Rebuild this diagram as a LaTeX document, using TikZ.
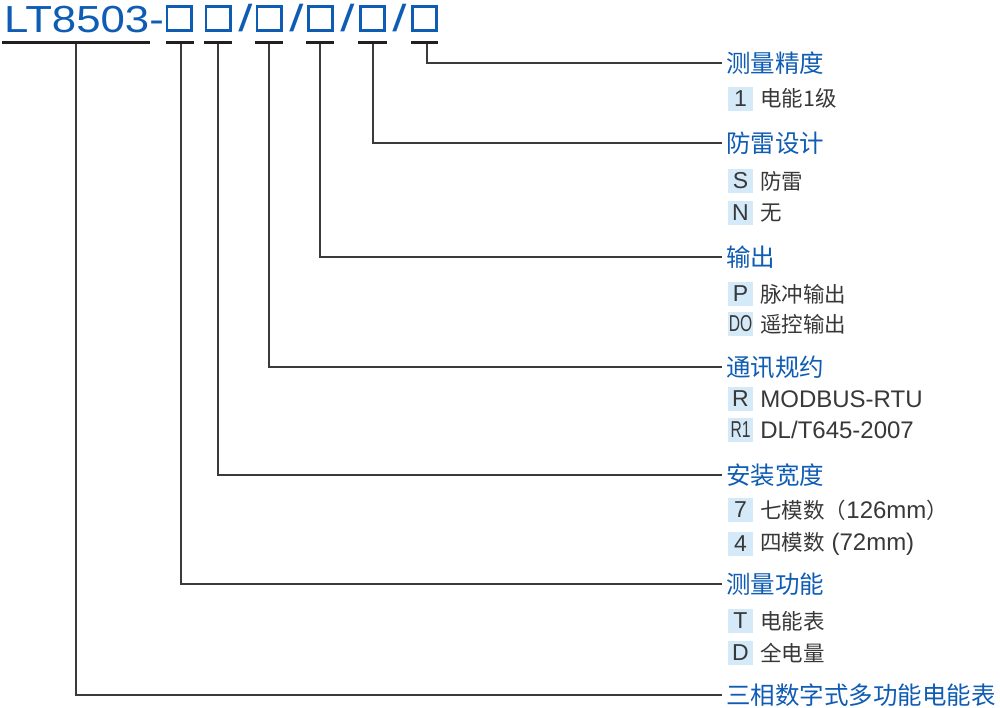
\documentclass[tikz,border=0pt]{standalone}
\usepackage{fontspec}
\setmainfont{Liberation Sans}
\newfontfamily\cjk{Noto Sans CJK SC}
\usetikzlibrary{positioning}
\definecolor{brand}{HTML}{0F5CB4}
\definecolor{ink}  {HTML}{383838}
\definecolor{wire} {HTML}{3A3A3A}
\definecolor{bar}  {HTML}{231F20}
\definecolor{tag}  {HTML}{D5EAF8}
\newcommand\zh[1]{{\cjk\fontsize{21.5}{23}\selectfont #1}}
\newcommand\narrow[1]{\scalebox{0.68}[1]{#1}}
\tikzset{
  codebox/.style={draw=brand, line width=2.6pt, minimum width=24.4pt,
    minimum height=24.4pt, inner sep=0pt},
  slash/.style={text=brand, inner sep=0pt,
    font=\fontsize{37.7}{40}\selectfont},
  head/.style={anchor=west, text=brand, inner xsep=4pt, inner ysep=0pt,
    font=\cjk\fontsize{24.5}{26}\selectfont},
  tagbox/.style={fill=tag, text=ink, minimum width=25pt, minimum height=24pt,
    inner sep=0pt, font=\fontsize{23}{24}\selectfont},
  item/.style={right=7pt of #1, text=ink, inner sep=0pt,
    font=\fontsize{24}{25}\selectfont},
  wire/.style={draw=wire, line width=1.3pt},
  underbar/.style={draw=bar, line width=3pt}
}
\begin{document}
\begin{tikzpicture}[x=1pt, y=-1pt]
    \useasboundingbox (0,0) rectangle (1000,707);

    % model code
    \node[anchor=base west, inner sep=0pt, text=brand,
      font=\fontsize{37.7}{40}\selectfont] (model) at (4,32)
      {\scalebox{1.16}[1]{LT8503-}};
    \node[codebox] (b1) at (179,  18.5) {};
    \node[codebox] (b2) at (218,  18.5) {};
    \node[slash]   (s1) at (245.5,18.5) {\scalebox{1.35}[1]{/}};
    \node[codebox] (b3) at (269,  18.5) {};
    \node[slash]   (s2) at (296.5,18.5) {\scalebox{1.35}[1]{/}};
    \node[codebox] (b4) at (320.5,18.5) {};
    \node[slash]   (s3) at (347.5,18.5) {\scalebox{1.35}[1]{/}};
    \node[codebox] (b5) at (372.5,18.5) {};
    \node[slash]   (s4) at (399.5,18.5) {\scalebox{1.35}[1]{/}};
    \node[codebox] (b6) at (424.5,18.5) {};

    % bars under the code
    \foreach \xa/\xb in {2/150, 166/194, 204/232, 255/283, 306/334, 358/387, 411/438}
      \draw[underbar] (\xa,42) -- (\xb,42);

    \coordinate (c0) at (76, 43.5);
    \coordinate (c1) at (181,43.5);
    \coordinate (c2) at (218,43.5);
    \coordinate (c3) at (269,43.5);
    \coordinate (c4) at (320,43.5);
    \coordinate (c5) at (373,43.5);
    \coordinate (c6) at (427,43.5);

    % headings
    \node[head] (h1) at (722,63)  {测量精度};
    \node[head] (h2) at (722,143) {防雷设计};
    \node[head] (h3) at (722,257) {输出};
    \node[head] (h4) at (722,367) {通讯规约};
    \node[head] (h5) at (722,475) {安装宽度};
    \node[head] (h6) at (722,584) {测量功能};
    \node[head] (h7) at (722,695) {三相数字式多功能电能表};

    \draw[wire] (c6) |- (h1.west);
    \draw[wire] (c5) |- (h2.west);
    \draw[wire] (c4) |- (h3.west);
    \draw[wire] (c3) |- (h4.west);
    \draw[wire] (c2) |- (h5.west);
    \draw[wire] (c1) |- (h6.west);
    \draw[wire] (c0) |- (h7.west);

    % options
    \node[tagbox] (k1)  at (740.5,98.5) {1};
    \node[item=k1]  {\zh{电能1级}};
    \node[tagbox] (kS)  at (740.5,181)  {S};
    \node[item=kS]  {\zh{防雷}};
    \node[tagbox] (kN)  at (740.5,213)  {N};
    \node[item=kN]  {\zh{无}};
    \node[tagbox] (kP)  at (740.5,294)  {P};
    \node[item=kP]  {\zh{脉冲输出}};
    \node[tagbox] (kDO) at (740.5,324)  {\narrow{DO}};
    \node[item=kDO] {\zh{遥控输出}};
    \node[tagbox] (kR)  at (740.5,399)  {R};
    \node[item=kR]  {MODBUS-RTU};
    \node[tagbox] (kR1) at (740.5,430)  {\narrow{R1}};
    \node[item=kR1] {DL/T645-2007};
    \node[tagbox] (k7)  at (740.5,510)  {7};
    \node[item=k7]  {\zh{七模数（}126mm\zh{）}};
    \node[tagbox] (k4)  at (740.5,544)  {4};
    \node[item=k4]  {\zh{四模数} (72mm)};
    \node[tagbox] (kT)  at (740.5,621)  {T};
    \node[item=kT]  {\zh{电能表}};
    \node[tagbox] (kD)  at (740.5,653)  {D};
    \node[item=kD]  {\zh{全电量}};
\end{tikzpicture}
\end{document}
